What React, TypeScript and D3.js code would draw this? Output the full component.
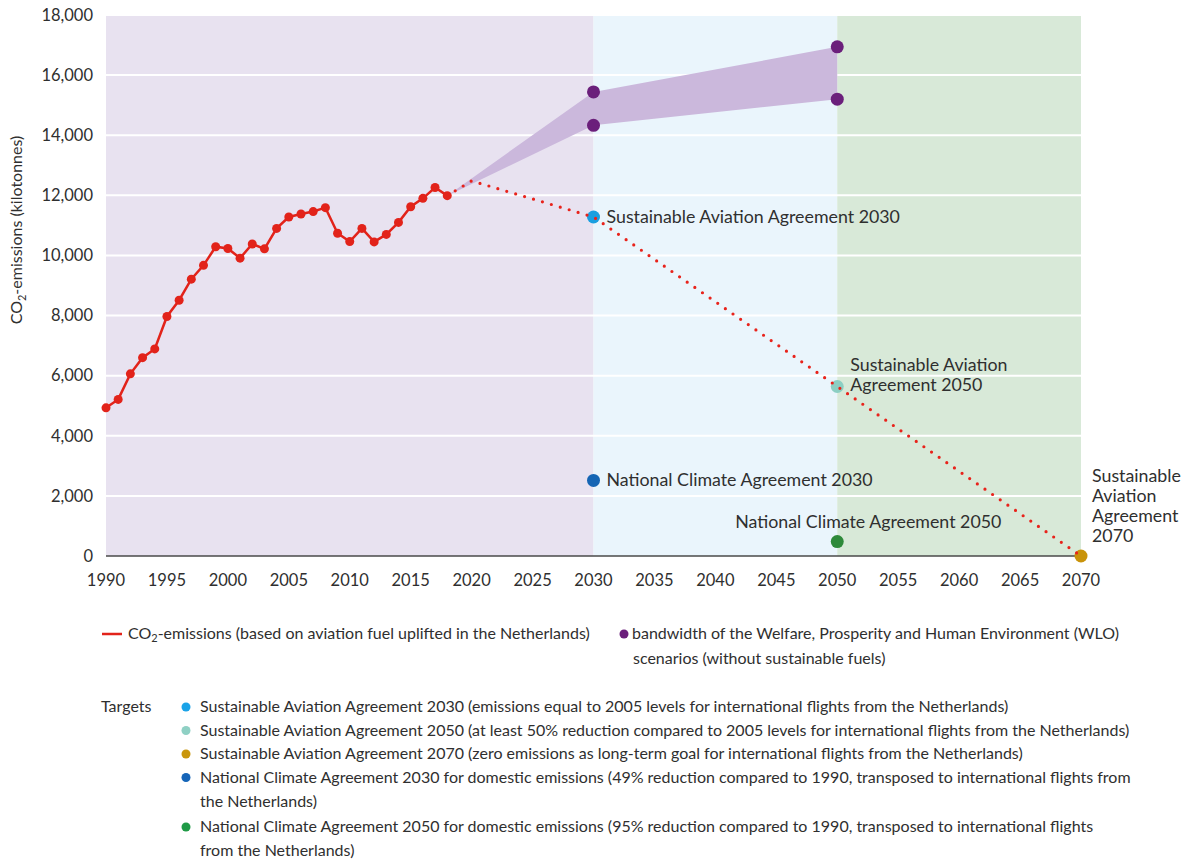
import * as d3 from "d3";
import { useRef, useEffect } from "react";

// historical CO2 emissions (kilotonnes)
const years = [1990, 1991, 1992, 1993, 1994, 1995, 1996, 1997, 1998, 1999, 2000, 2001, 2002, 2003, 2004, 2005, 2006, 2007, 2008, 2009, 2010, 2011, 2012, 2013, 2014, 2015, 2016, 2017, 2018];
const emissions = [4930, 5210, 6060, 6600, 6890, 7970, 8510, 9210, 9670, 10290, 10230, 9910, 10380, 10220, 10900, 11280, 11380, 11460, 11590, 10740, 10460, 10900, 10450, 10700, 11100, 11620, 11900, 12260, 11990];

// target path (dotted)
const pathYears = [2018, 2020, 2030, 2050, 2070];
const pathValues = [11990, 12480, 11280, 5640, 0];

// WLO bandwidth
const bandYears = [2018, 2030, 2050];
const bandLow = [11990, 14330, 15200];
const bandHigh = [11990, 15440, 16940];

// targets
const targetNames = ["SAA 2030", "SAA 2050", "SAA 2070", "NCA 2030", "NCA 2050"];
const targetYears = [2030, 2050, 2070, 2030, 2050];
const targetValues = [11280, 5640, 0, 2515, 480];
const targetColors = ["#1a9fe0", "#8ccfc3", "#c9930a", "#1565b4", "#2e8a3a"];
const legendDotColors = ["#1aa3e8", "#8fd0c4", "#c9960c", "#1565b8", "#1f9a46"];

const yTicks = [0, 2000, 4000, 6000, 8000, 10000, 12000, 14000, 16000, 18000];
const xTicks = [1990, 1995, 2000, 2005, 2010, 2015, 2020, 2025, 2030, 2035, 2040, 2045, 2050, 2055, 2060, 2065, 2070];

const periods = [
  { from: 1990, to: 2030, color: "#e8e2f0" },
  { from: 2030, to: 2050, color: "#eaf5fc" },
  { from: 2050, to: 2070, color: "#d8e9d8" },
];

const targetLegend = [
  ["Sustainable Aviation Agreement 2030 (emissions equal to 2005 levels for international flights from the Netherlands)"],
  ["Sustainable Aviation Agreement 2050 (at least 50% reduction compared to 2005 levels for international flights from the Netherlands)"],
  ["Sustainable Aviation Agreement 2070 (zero emissions as long-term goal for international flights from the Netherlands)"],
  ["National Climate Agreement 2030 for domestic emissions (49% reduction compared to 1990, transposed to international flights from", "the Netherlands)"],
  ["National Climate Agreement 2050 for domestic emissions (95% reduction compared to 1990, transposed to international flights", "from the Netherlands)"],
];

const FONT = "Lato, 'Open Sans', sans-serif";
const TEXT = "#2f2f2f";

export default function App() {
  const svgRef = useRef<SVGSVGElement>(null);
  const width = 1182;
  const height = 860;

  useEffect(() => {
    const svg = d3.select(svgRef.current);
    svg.selectAll("*").remove();
    svg.style("font-family", FONT);

    const x = d3.scaleLinear().domain([1990, 2070]).range([106, 1081]);
    const y = d3.scaleLinear().domain([0, 18000]).range([556, 15]);

    // background periods
    svg.append("g").selectAll("rect")
      .data(periods)
      .enter()
      .append("rect")
      .attr("x", d => x(d.from))
      .attr("y", y(18000))
      .attr("width", d => x(d.to) - x(d.from))
      .attr("height", y(0) - y(18000))
      .attr("fill", d => d.color);

    // gridlines
    svg.append("g").selectAll("line")
      .data(yTicks.filter(d => d > 0))
      .enter()
      .append("line")
      .attr("x1", x(1990))
      .attr("x2", x(2070))
      .attr("y1", d => y(d))
      .attr("y2", d => y(d))
      .attr("stroke", "#ffffff")
      .attr("stroke-width", 2);

    // y tick labels
    svg.append("g").selectAll("text")
      .data(yTicks)
      .enter()
      .append("text")
      .attr("x", 93)
      .attr("y", d => y(d))
      .attr("dy", "0.35em")
      .attr("text-anchor", "end")
      .attr("fill", TEXT)
      .style("font-size", "16.5px")
      .text(d => d3.format(",")(d));

    // x tick labels
    svg.append("g").selectAll("text")
      .data(xTicks)
      .enter()
      .append("text")
      .attr("x", d => x(d))
      .attr("y", 586)
      .attr("text-anchor", "middle")
      .attr("fill", TEXT)
      .style("font-size", "16.5px")
      .text(d => d);

    // baseline
    svg.append("line")
      .attr("x1", x(1990))
      .attr("x2", x(2070))
      .attr("y1", y(0))
      .attr("y2", y(0))
      .attr("stroke", "#4a4a4a")
      .attr("stroke-width", 1.5);

    // y axis title
    const yt = svg.append("text")
      .attr("transform", "translate(22,230) rotate(-90)")
      .attr("text-anchor", "middle")
      .attr("fill", TEXT)
      .style("font-size", "16px");
    yt.append("tspan").text("CO");
    yt.append("tspan").attr("dy", 4).style("font-size", "11px").text("2");
    yt.append("tspan").attr("dy", -4).text("-emissions (kilotonnes)");

    // WLO band
    const area = d3.area<number>()
      .x(i => x(bandYears[i]))
      .y0(i => y(bandLow[i]))
      .y1(i => y(bandHigh[i]));
    svg.append("path")
      .datum(d3.range(bandYears.length))
      .attr("d", area)
      .attr("fill", "#cbb8dc");

    svg.append("g").selectAll("circle")
      .data([1, 2].flatMap(i => [[bandYears[i], bandLow[i]], [bandYears[i], bandHigh[i]]]))
      .enter()
      .append("circle")
      .attr("cx", d => x(d[0]))
      .attr("cy", d => y(d[1]))
      .attr("r", 6.5)
      .attr("fill", "#6b1f7b");

    // target markers
    svg.append("g").selectAll("circle")
      .data(targetNames)
      .enter()
      .append("circle")
      .attr("cx", (d, i) => x(targetYears[i]))
      .attr("cy", (d, i) => y(targetValues[i]))
      .attr("r", 6.5)
      .attr("fill", (d, i) => targetColors[i]);

    // dotted target path
    const pathLine = d3.line<number>()
      .x(i => x(pathYears[i]))
      .y(i => y(pathValues[i]));
    svg.append("path")
      .datum(d3.range(pathYears.length))
      .attr("d", pathLine)
      .attr("fill", "none")
      .attr("stroke", "#e8231b")
      .attr("stroke-width", 3.2)
      .attr("stroke-linecap", "round")
      .attr("stroke-dasharray", "0 9.3");

    // historical line
    const line = d3.line<number>()
      .x(i => x(years[i]))
      .y(i => y(emissions[i]));
    svg.append("path")
      .datum(d3.range(years.length))
      .attr("d", line)
      .attr("fill", "none")
      .attr("stroke", "#e2231a")
      .attr("stroke-width", 2.5);
    svg.append("g").selectAll("circle")
      .data(years)
      .enter()
      .append("circle")
      .attr("cx", d => x(d))
      .attr("cy", (d, i) => y(emissions[i]))
      .attr("r", 4.5)
      .attr("fill", "#e2231a");

    // annotations
    const annotations = [
      { lines: ["Sustainable Aviation Agreement 2030"], x: x(2030) + 13, y: y(11280) + 6 },
      { lines: ["Sustainable Aviation", "Agreement 2050"], x: x(2050) + 13, y: y(5640) - 15 },
      { lines: ["National Climate Agreement 2030"], x: x(2030) + 13, y: y(2515) + 6 },
      { lines: ["National Climate Agreement 2050"], x: x(2050) - 102, y: y(480) - 14 },
      { lines: ["Sustainable", "Aviation", "Agreement", "2070"], x: x(2070) + 11, y: y(0) - 74 },
    ];
    annotations.forEach(a => {
      const t = svg.append("text")
        .attr("fill", TEXT)
        .style("font-size", "17.8px");
      a.lines.forEach((l, k) => {
        t.append("tspan").attr("x", a.x).attr("y", a.y + k * 20).text(l);
      });
    });

    // legend, row 1
    const lg = svg.append("g").style("font-size", "16px").attr("fill", TEXT);
    lg.append("line")
      .attr("x1", 102).attr("x2", 122).attr("y1", 634).attr("y2", 634)
      .attr("stroke", "#e2231a").attr("stroke-width", 2.5);
    const t1 = lg.append("text").attr("x", 128).attr("y", 639);
    t1.append("tspan").text("CO");
    t1.append("tspan").attr("dy", 3).style("font-size", "11px").text("2");
    t1.append("tspan").attr("dy", -3).text("-emissions (based on aviation fuel uplifted in the Netherlands)");

    lg.append("circle").attr("cx", 624).attr("cy", 634).attr("r", 4.5).attr("fill", "#6b1f7b");
    lg.append("text").attr("x", 632).attr("y", 639)
      .text("bandwidth of the Welfare, Prosperity and Human Environment (WLO)");
    lg.append("text").attr("x", 633).attr("y", 664)
      .text("scenarios (without sustainable fuels)");

    // legend, targets
    lg.append("text").attr("x", 101).attr("y", 712).text("Targets");
    let rowY = 707;
    targetLegend.forEach((lines, i) => {
      lg.append("circle").attr("cx", 186).attr("cy", rowY).attr("r", 4.5).attr("fill", legendDotColors[i]);
      lines.forEach((l, k) => {
        lg.append("text").attr("x", 200).attr("y", rowY + 5 + k * 24).text(l);
      });
      rowY += lines.length === 1 ? 23.5 : 49.5;
    });
  }, []);

  return (
    <svg
      ref={svgRef}
      width={width}
      height={height}
      style={{ position: "absolute", left: 0, top: 0, background: "#ffffff" }}
    ></svg>
  );
}
